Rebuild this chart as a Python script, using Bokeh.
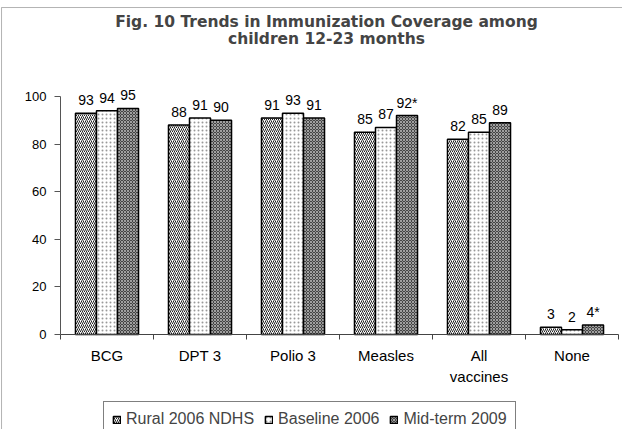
from bokeh.plotting import figure
from bokeh.models import (ColumnDataSource, Range1d, LinearAxis, FixedTicker, Label,
                          Legend, LegendItem, BoxAnnotation)
from bokeh.core.properties import value
from bokeh.embed import file_html
from bokeh.resources import INLINE

# ---- data ----
categories = ["BCG", "DPT 3", "Polio 3", "Measles", "All\nvaccines", "None"]
rural_2006 = [93, 88, 91, 85, 82, 3]
baseline_2006 = [94, 91, 93, 87, 85, 2]
midterm_2009 = [95, 90, 91, 92, 89, 4]
rural_labels = ["93", "88", "91", "85", "82", "3"]
baseline_labels = ["94", "91", "93", "87", "85", "2"]
midterm_labels = ["95", "90", "91", "92*", "89", "4*"]
series_names = ["Rural 2006 NDHS", "Baseline 2006", "Mid-term 2009"]
y_ticks = [0, 20, 40, 60, 80, 100]
title_lines = ["Fig. 10 Trends in Immunization Coverage among", "children 12-23 months"]

FONT = "Liberation Sans"
n = len(categories)
w = 0.226
centers = [i + 0.5 for i in range(n)]

source = ColumnDataSource(dict(
    x1=[c - w for c in centers], x2=centers, x3=[c + w for c in centers],
    rural=rural_2006, base=baseline_2006, mid=midterm_2009,
    rl=rural_labels, bl=baseline_labels, ml=midterm_labels,
))

p = figure(x_range=Range1d(-0.6452, 6.043), y_range=Range1d(-39.92, 140.34),
           width=622, height=429, output_backend="svg", toolbar_location=None,
           x_axis_location=None, y_axis_location=None,
           min_border_left=0, min_border_right=0, min_border_top=0, min_border_bottom=0)
p.outline_line_color = None
p.xgrid.grid_line_color = None
p.ygrid.grid_line_color = None
p.background_fill_color = "white"
p.border_fill_color = "white"

# outer chart border (left and top edges; right/bottom fall outside the page)
p.add_layout(BoxAnnotation(left=-0.634, top=137.39, right=6.5, bottom=-60,
                           fill_color=None, line_color="black", line_width=1, level="underlay"))

# y axis
yaxis = LinearAxis(ticker=FixedTicker(ticks=y_ticks), bounds=(0, 100), fixed_location=0)
yaxis.axis_line_color = "#555555"
yaxis.major_tick_line_color = "#555555"
yaxis.major_tick_out = 6
yaxis.major_tick_in = 0
yaxis.minor_tick_line_color = None
yaxis.major_label_standoff = 8
yaxis.major_label_text_font = FONT
yaxis.major_label_text_font_size = "13px"
yaxis.major_label_text_color = "black"
p.add_layout(yaxis, "left")

# x tick marks at category boundaries
xticks = LinearAxis(ticker=FixedTicker(ticks=list(range(n + 1))), bounds=(0, n), fixed_location=0)
xticks.axis_line_color = "#444444"
xticks.major_tick_line_color = "#444444"
xticks.major_tick_out = 5
xticks.major_tick_in = 0
xticks.minor_tick_line_color = None
xticks.major_label_text_color = None
xticks.major_label_text_font_size = "10px"
xticks.major_label_standoff = 0
p.add_layout(xticks, "below")

# category labels
xaxis = LinearAxis(ticker=FixedTicker(ticks=centers), bounds=(0, n), fixed_location=0,
                   major_label_overrides={c: lbl for c, lbl in zip(centers, categories)})
xaxis.axis_line_color = None
xaxis.major_tick_line_color = None
xaxis.major_tick_out = 0
xaxis.minor_tick_line_color = None
xaxis.major_label_standoff = 13
xaxis.major_label_text_font = FONT
xaxis.major_label_text_font_size = "15px"
xaxis.major_label_text_color = "black"
p.add_layout(xaxis, "below")

common = dict(source=source, width=w, bottom=0, line_color="black", line_width=1.5)
r1 = p.vbar(x="x1", top="rural", fill_color="white",
            hatch_pattern="/", hatch_color="#222222", hatch_scale=4, hatch_weight=1, **common)
r2 = p.vbar(x="x2", top="base", fill_color="white",
            hatch_pattern=".", hatch_color="#999999", hatch_scale=4, hatch_weight=1, **common)
r3 = p.vbar(x="x3", top="mid", fill_color="#444444",
            hatch_pattern="x", hatch_color="#a0a0a0", hatch_scale=3, hatch_weight=1, **common)

lab = dict(source=source, text_font=value(FONT), text_font_size="14px",
           text_align="center", text_baseline="alphabetic", y_offset=-13, text_color="black")
p.text(x="x1", y="rural", text="rl", **lab)
p.text(x="x2", y="base", text="bl", **lab)
p.text(x="x3", y="mid", text="ml", **lab)

# title
TFONT = "DejaVu Sans"
p.add_layout(Label(x=2.86, y=131.5, text=title_lines[0], text_align="center", text_baseline="middle",
                   text_font=TFONT, text_font_size="15.5px", text_font_style="bold"))
p.add_layout(Label(x=2.86, y=124.2, text=title_lines[1], text_align="center", text_baseline="middle",
                   text_font=TFONT, text_font_size="15.5px", text_font_style="bold"))

legend = Legend(items=[LegendItem(label=series_names[0], renderers=[r1]),
                       LegendItem(label=series_names[1], renderers=[r2]),
                       LegendItem(label=series_names[2], renderers=[r3])],
                orientation="horizontal", location=(103, -8))
legend.label_text_font = FONT
legend.label_text_font_size = "16px"
legend.glyph_width = 9
legend.glyph_height = 9
legend.label_standoff = 5
legend.spacing = 10
legend.padding = 8
legend.margin = 0
legend.border_line_color = "black"
legend.border_line_width = 1
legend.background_fill_alpha = 1
p.add_layout(legend, "center")

open("out.html", "w").write(file_html(p, INLINE))
